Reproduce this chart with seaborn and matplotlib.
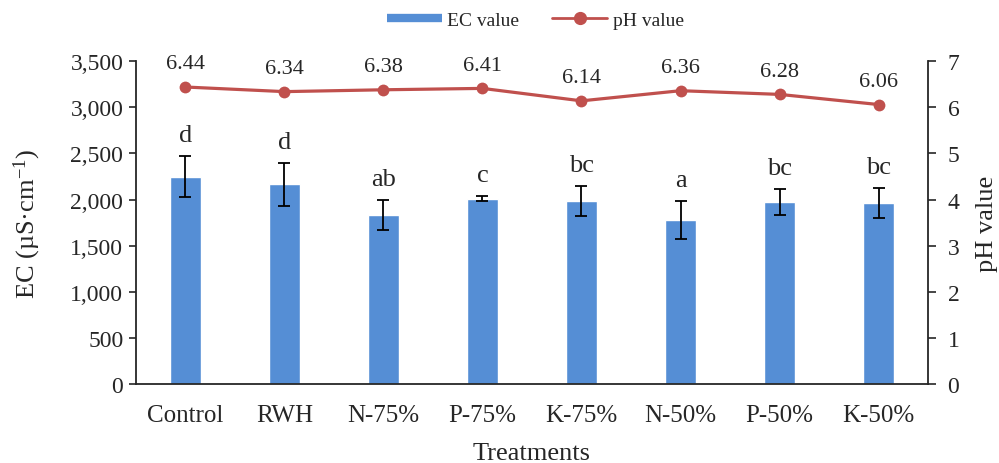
import numpy as np
import pandas as pd
import matplotlib
matplotlib.use('Agg')
import matplotlib.pyplot as plt
import seaborn as sns
from matplotlib.ticker import FuncFormatter
from matplotlib.lines import Line2D

# Values
treatments = ['Control', 'RWH', 'N-75%', 'P-75%', 'K-75%', 'N-50%', 'P-50%', 'K-50%']
ec_mean = [2250, 2165, 1830, 2010, 1985, 1780, 1975, 1965]
ec_sd = [225, 230, 165, 30, 160, 205, 140, 160]
ec_letters = ['d', 'd', 'ab', 'c', 'bc', 'a', 'bc', 'bc']
ph_value = [6.44, 6.34, 6.38, 6.41, 6.14, 6.36, 6.28, 6.06]

BAR_COLOR = '#558ED5'
LINE_COLOR = '#C0504D'

sns.set_style('ticks')
plt.rcParams['font.family'] = ['Liberation Serif', 'DejaVu Serif']
plt.rcParams['mathtext.fontset'] = 'custom'
plt.rcParams['mathtext.rm'] = 'Liberation Serif'
plt.rcParams['mathtext.it'] = 'Liberation Serif:italic'

df = pd.DataFrame({'treatment': treatments, 'ec': ec_mean, 'sd': ec_sd, 'ph': ph_value})

fig = plt.figure(figsize=(9.99, 4.64), dpi=100)
ax = fig.add_axes([0.136, 0.170, 0.793, 0.696])

sns.barplot(data=df, x='treatment', y='ec', color=BAR_COLOR, width=0.31,
            saturation=1, errorbar=None, ax=ax)
xpos = np.arange(len(treatments))
ax.errorbar(xpos, df['ec'], yerr=df['sd'], fmt='none', ecolor='black',
            elinewidth=1.3, capsize=4, capthick=1.3)

# significance letters above error bars
for x, m, s, lab in zip(xpos, ec_mean, ec_sd, ec_letters):
    ax.annotate(lab, (x, m + s), xytext=(0, 7), textcoords='offset points',
                ha='center', va='bottom', fontsize=19)

ax.set_ylim(0, 3500)
ax.set_yticks(np.arange(0, 3501, 500))
ax.yaxis.set_major_formatter(FuncFormatter(lambda v, p: f'{int(v):,}'))
ax.set_xlim(-0.5, len(treatments) - 0.5)
ax.set_xlabel('Treatments', fontsize=19, labelpad=12)
ax.set_ylabel('EC (µS·cm$^{-1}$)', fontsize=19, labelpad=20)
ax.tick_params(axis='y', labelsize=17, length=5, width=1.2, direction='out', pad=4)
ax.tick_params(axis='x', labelsize=18, length=0, pad=14)
for sp in ['top', 'right']:
    ax.spines[sp].set_visible(False)
for sp in ['left', 'bottom']:
    ax.spines[sp].set_linewidth(1.3)

ax2 = ax.twinx()
sns.lineplot(x=xpos, y=df['ph'], ax=ax2, color=LINE_COLOR, linewidth=2.3,
             marker='o', markersize=8.5, markeredgewidth=0)
for x, v in zip(xpos, ph_value):
    ax2.annotate(f'{v:.2f}', (x, v), xytext=(0, 10), textcoords='offset points',
                 ha='center', va='bottom', fontsize=16)
ax2.set_ylim(0, 7)
ax2.set_yticks(range(0, 8))
ax2.set_ylabel('pH value', fontsize=19, labelpad=12)
ax2.tick_params(axis='y', labelsize=17, length=6, width=1.2, direction='out', pad=8)
for sp in ['top', 'left', 'bottom']:
    ax2.spines[sp].set_visible(False)
ax2.spines['right'].set_linewidth(1.3)
ax2.set_xlim(-0.5, len(treatments) - 0.5)

handles = [Line2D([0], [0], color=BAR_COLOR, linewidth=6, solid_capstyle='butt'),
           Line2D([0], [0], color=LINE_COLOR, linewidth=2.0, marker='o', markersize=8.5)]
fig.legend(handles, ['EC value', 'pH value'], loc='center', bbox_to_anchor=(0.536, 0.955),
           ncol=2, frameon=False, fontsize=14, handlelength=2.8, handletextpad=0.3,
           columnspacing=1.7)

fig.savefig('out.png', dpi=100)
